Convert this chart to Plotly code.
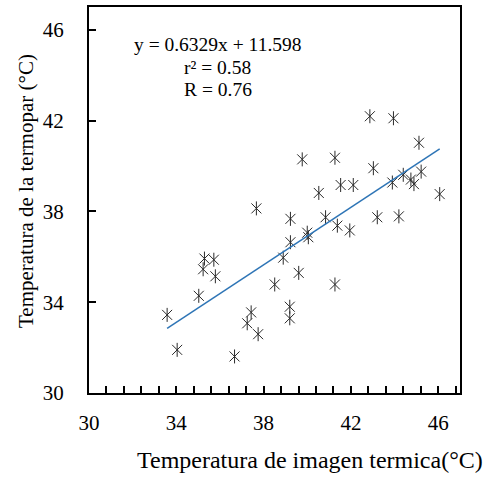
import plotly.graph_objects as go

# Data
img_temp = [33.58, 34.04, 35.03, 35.23, 35.29, 35.72, 35.79, 36.67, 37.25, 37.43,
            37.67, 37.75, 38.51, 38.90, 39.20, 39.20, 39.23, 39.23, 39.61, 39.77,
            40.00, 40.05, 40.53, 40.84, 41.27, 41.27, 41.38, 41.53, 41.95, 42.11,
            42.87, 43.03, 43.21, 43.90, 43.95, 44.20, 44.40, 44.75, 44.89, 45.12,
            45.22, 46.07]
thermo_temp = [33.44, 31.90, 34.28, 35.45, 35.92, 35.87, 35.14, 31.61, 33.07, 33.55,
               38.13, 32.59, 34.78, 35.96, 33.80, 33.29, 36.64, 37.67, 35.29, 40.29,
               37.06, 36.86, 38.81, 37.74, 40.36, 34.78, 37.37, 39.16, 37.16, 39.16,
               42.19, 39.90, 37.74, 39.27, 42.10, 37.78, 39.61, 39.40, 39.20, 41.02,
               39.75, 38.76]

slope = 0.6329
intercept = 11.598
eq_lines = ["y = 0.6329x + 11.598", "r² = 0.58", "R = 0.76"]
x_ticks = [30, 34, 38, 42, 46]
y_ticks = [30, 34, 38, 42, 46]

FONT = "Liberation Serif, 'Times New Roman', serif"
MK = "#2a2a2a"

x_line = [min(img_temp), max(img_temp)]
y_line = [slope * v + intercept for v in x_line]

fig = go.Figure()
fig.add_trace(go.Scatter(x=img_temp, y=thermo_temp, mode="markers",
                         marker=dict(symbol="x-thin-open", size=10, color=MK,
                                     line=dict(width=1, color=MK)),
                         showlegend=False, hoverinfo="skip"))
fig.add_trace(go.Scatter(x=img_temp, y=thermo_temp, mode="markers",
                         marker=dict(symbol="line-ns-open", size=10, color=MK,
                                     line=dict(width=1, color=MK)),
                         showlegend=False))
fig.add_trace(go.Scatter(x=x_line, y=y_line, mode="lines",
                         line=dict(color="#2E75B6", width=1.5),
                         showlegend=False))

for i, t in enumerate(eq_lines):
    fig.add_annotation(x=35.89, y=45.34 - i * 0.985, xref="x", yref="y",
                       text=t, showarrow=False, xanchor="center", yanchor="middle",
                       font=dict(family=FONT, size=19.5, color="black"))

fig.add_annotation(x=0.596, y=-0.173, xref="paper", yref="paper",
                   text="Temperatura de imagen termica(°C)", showarrow=False,
                   xanchor="center", yanchor="middle",
                   font=dict(family=FONT, size=24, color="black"))
fig.add_annotation(x=-0.17, y=0.523, xref="paper", yref="paper",
                   text="Temperatura de la termopar (°C)", showarrow=False,
                   textangle=-90, xanchor="center", yanchor="middle",
                   font=dict(family=FONT, size=21, color="black"))

axis_common = dict(showgrid=False, zeroline=False, showline=True, linecolor="black",
                   linewidth=2, mirror=True, ticks="inside", ticklen=7, tickwidth=1.5,
                   tickcolor="black")

tick_style = "font-family:Liberation Serif,serif"
fig.update_xaxes(range=[30, 47], tickvals=x_ticks,
                 ticktext=[f"<span style='{tick_style}'>{v}</span>" for v in x_ticks],
                 ticklabelstandoff=10,
                 tickfont=dict(family="Liberation Serif", size=21, color="black"),
                 minor=dict(tick0=30, dtick=0.8, ticks="inside", ticklen=7,
                            tickwidth=1.5, tickcolor="black"),
                 **axis_common)
fig.update_yaxes(range=[30, 47], tickvals=y_ticks,
                 ticktext=[f"<span style='{tick_style}'>{v}</span>" for v in y_ticks],
                 ticklabelstandoff=19,
                 tickfont=dict(family="Liberation Serif", size=21, color="black"),
                 **axis_common)

fig.update_layout(width=493, height=479, margin=dict(l=89, r=33, t=5, b=86),
                  plot_bgcolor="white", paper_bgcolor="white",
                  font=dict(family=FONT, color="black"))

fig.write_html("out.html")
